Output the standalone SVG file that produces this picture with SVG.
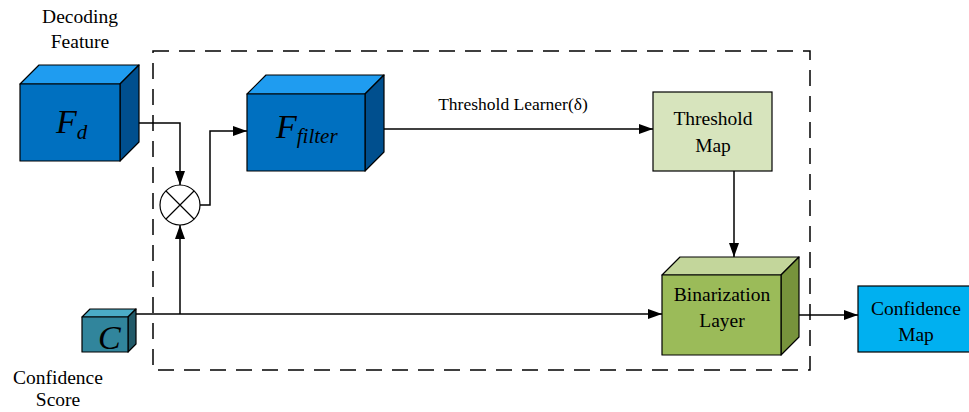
<svg xmlns="http://www.w3.org/2000/svg" width="969" height="412" viewBox="0 0 969 412">
<defs>
<marker id="ah" viewBox="0 0 14 10" refX="14" refY="5" markerWidth="14" markerHeight="10" markerUnits="userSpaceOnUse" orient="auto">
<path d="M0,0 L14,5 L0,10 Z" fill="#000"/>
</marker>
<style>
text{font-family:'Liberation Serif','Times New Roman',Times,serif}
.t{font-size:19.5px;fill:#000;text-anchor:middle}
.m{font-style:italic;fill:#000}
.ln{fill:none;stroke:#000;stroke-width:1.5}
.e{stroke:#000;stroke-width:1.2;stroke-linejoin:round}
</style>
</defs>
<rect width="969" height="412" fill="#fff"/>
<rect x="153" y="51" width="657" height="319" fill="none" stroke="#000" stroke-width="1.5" stroke-dasharray="16,10"/>
<g id="connectors">
<path class="ln" d="M139,123 H180 V185" marker-end="url(#ah)"/>
<path class="ln" d="M200,205 H210 V131 H247" marker-end="url(#ah)"/>
<path class="ln" d="M384,129 H653" marker-end="url(#ah)"/>
<path class="ln" d="M734,171 V257" marker-end="url(#ah)"/>
<path class="ln" d="M136,314 H662" marker-end="url(#ah)"/>
<path class="ln" d="M180,314 V225" marker-end="url(#ah)"/>
<path class="ln" d="M799,315 H858" marker-end="url(#ah)"/>
<text class="t" x="513" y="110" style="font-size:17.5px">Threshold Learner(δ)</text>
</g>
<g id="decoding-feature">
<polygon class="e" points="20,84 39,65 139,65 120,84" fill="#1f9cf0"/>
<polygon class="e" points="120,84 139,65 139,142 120,161" fill="#004f8e"/>
<rect class="e" x="20" y="84" width="100" height="77" fill="#0070c0"/>
<text class="m" x="56" y="133" font-size="34">F<tspan font-size="21" dy="6">d</tspan></text>
<text class="t" x="80" y="23">Decoding</text>
<text class="t" x="80" y="48">Feature</text>
</g>
<g id="multiply">
<circle cx="180" cy="205" r="20" fill="#fff" stroke="#000" stroke-width="1.2"/>
<path d="M166,191 L194,219 M194,191 L166,219" stroke="#000" stroke-width="1.2"/>
</g>
<g id="f-filter">
<polygon class="e" points="247,94 266,75 384,75 365,94" fill="#1f9cf0"/>
<polygon class="e" points="365,94 384,75 384,152 365,171" fill="#004f8e"/>
<rect class="e" x="247" y="94" width="118" height="77" fill="#0070c0"/>
<text class="m" x="276" y="138" font-size="34">F<tspan font-size="21" dy="5">filter</tspan></text>
</g>
<g id="threshold-map">
<rect x="653" y="92" width="119" height="79" fill="#d7e4bd" stroke="#000" stroke-width="1.2"/>
<text class="t" x="713" y="125">Threshold</text>
<text class="t" x="713" y="152">Map</text>
</g>
<g id="binarization-layer">
<polygon class="e" points="662,275 680,257 799,257 781,275" fill="#c3d69b"/>
<polygon class="e" points="781,275 799,257 799,337 781,355" fill="#77933c"/>
<rect class="e" x="662" y="275" width="119" height="80" fill="#9bbb59"/>
<text class="t" x="722" y="301">Binarization</text>
<text class="t" x="722" y="327">Layer</text>
</g>
<g id="confidence-score">
<polygon class="e" points="82,317 90,309 136,309 128,317" fill="#4bacc6"/>
<polygon class="e" points="128,317 136,309 136,344 128,352" fill="#215968"/>
<rect class="e" x="82" y="317" width="46" height="35" fill="#31859c"/>
<text class="m" x="98" y="349" font-size="34">C</text>
<text class="t" x="58" y="384">Confidence</text>
<text class="t" x="58" y="406">Score</text>
</g>
<g id="confidence-map">
<rect x="858" y="286" width="112" height="66" fill="#00b0f0" stroke="#000" stroke-width="1.2"/>
<text class="t" x="916" y="315">Confidence</text>
<text class="t" x="916" y="341">Map</text>
</g>
</svg>
